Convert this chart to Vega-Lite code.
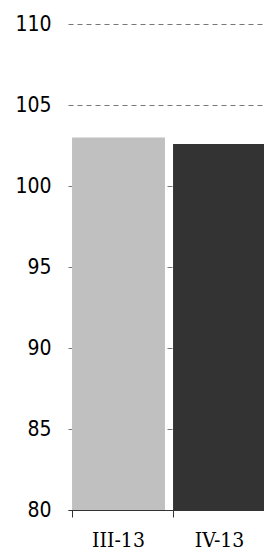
{
  "$schema": "https://vega.github.io/schema/vega-lite/v6.json",
  "autosize": "none",
  "padding": {"left": 68, "top": 24, "right": 0, "bottom": 43},
  "width": 202,
  "height": 486,
  "background": "white",
  "data": {"values": [
    {"period": "III-13", "value": 103.0},
    {"period": "IV-13", "value": 102.6}
  ]},
  "mark": {"type": "bar", "clip": true},
  "encoding": {
    "x": {
      "field": "period", "type": "nominal", "sort": null,
      "scale": {"paddingInner": 0.08, "paddingOuter": 0.04},
      "axis": {
        "title": null, "labelAngle": 0, "bandPosition": 0,
        "domainColor": "#333333", "tickColor": "#333333", "tickSize": 7,
        "labelFont": "DejaVu Serif Condensed, DejaVu Serif", "labelFontSize": 21, "labelColor": "#000000",
        "labelPadding": 12, "grid": false
      }
    },
    "y": {
      "field": "value", "type": "quantitative",
      "scale": {"domain": [80, 110], "nice": false, "zero": false},
      "axis": {
        "title": null, "values": [80, 85, 90, 95, 100, 105, 110],
        "domain": false, "ticks": false, "labelPadding": 17,
        "labelFont": "DejaVu Sans Condensed, DejaVu Sans", "labelFontSize": 21, "labelColor": "#000000",
        "grid": true, "gridColor": "#777777", "gridDash": [5, 4], "gridWidth": 1
      }
    },
    "color": {
      "field": "period", "type": "nominal", "legend": null,
      "scale": {"domain": ["III-13", "IV-13"], "range": ["#c0c0c0", "#333333"]}
    }
  },
  "config": {"view": {"stroke": null}}
}
